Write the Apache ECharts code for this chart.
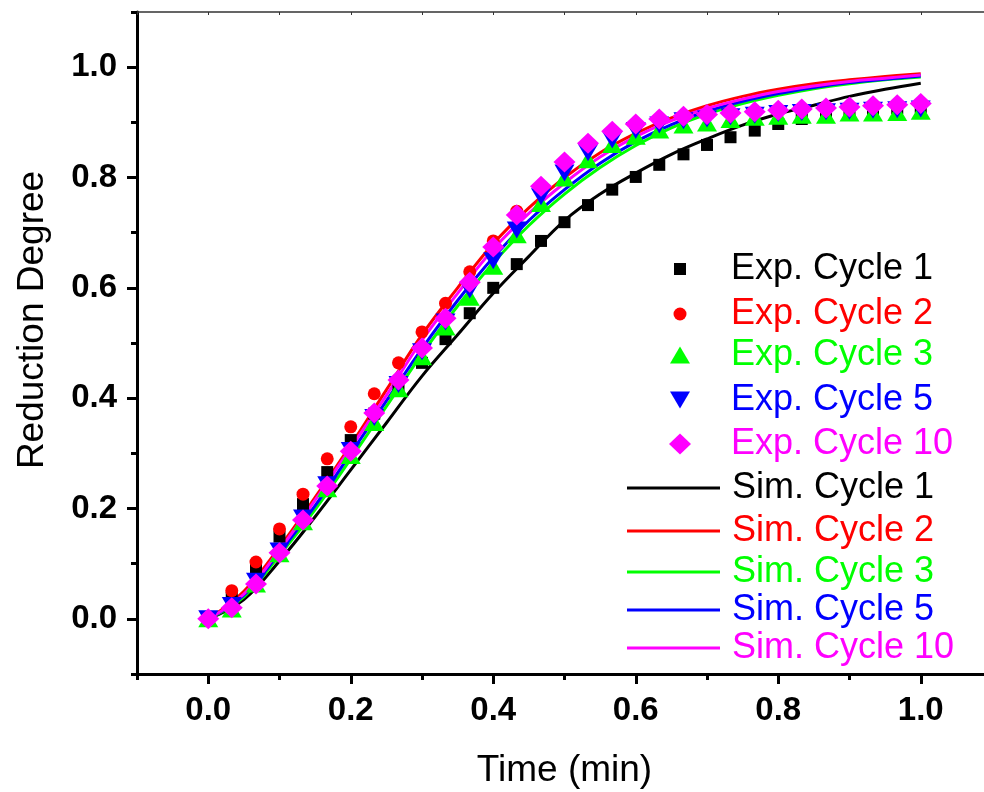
<!DOCTYPE html>
<html>
<head>
<meta charset="utf-8">
<script src="https://cdn.jsdelivr.net/npm/echarts@6/dist/echarts.min.js"></script>
<style>
  html, body { margin: 0; padding: 0; background: #fff; }
  #chart { width: 984px; height: 792px; }
</style>
</head>
<body>
<div id="chart"></div>
<script>
// Sampling times of the measured points (min)
const expTime = [0, 0.033, 0.067, 0.1, 0.133, 0.167, 0.2, 0.233, 0.267, 0.3, 0.333,
  0.367, 0.4, 0.433, 0.467, 0.5, 0.533, 0.567, 0.6, 0.633, 0.667, 0.7, 0.733,
  0.767, 0.8, 0.833, 0.867, 0.9, 0.933, 0.967, 1.0];

// Measured reduction degree per cycle
const expCycle1 = [0, 0.038, 0.091, 0.149, 0.208, 0.266, 0.324, 0.372, 0.418, 0.464, 0.507,
  0.554, 0.600, 0.643, 0.685, 0.719, 0.750, 0.778, 0.801, 0.823, 0.842, 0.859, 0.873,
  0.885, 0.897, 0.906, 0.913, 0.918, 0.923, 0.926, 0.928];
const expCycle2 = [0, 0.051, 0.103, 0.163, 0.226, 0.290, 0.348, 0.408, 0.464, 0.520, 0.572,
  0.629, 0.685, 0.739, 0.782, 0.822, 0.855, 0.878, 0.893, 0.903, 0.909, 0.913, 0.916,
  0.919, 0.921, 0.923, 0.925, 0.927, 0.929, 0.931, 0.932];
const expCycle3 = [0, 0.018, 0.063, 0.118, 0.176, 0.236, 0.296, 0.356, 0.417, 0.475, 0.529,
  0.583, 0.639, 0.696, 0.753, 0.799, 0.832, 0.860, 0.875, 0.886, 0.895, 0.899, 0.905,
  0.909, 0.911, 0.913, 0.913, 0.917, 0.917, 0.918, 0.920];
const expCycle5 = [0, 0.024, 0.068, 0.123, 0.183, 0.243, 0.305, 0.365, 0.425, 0.484, 0.538,
  0.596, 0.649, 0.705, 0.765, 0.808, 0.845, 0.868, 0.885, 0.895, 0.903, 0.906, 0.910,
  0.913, 0.916, 0.918, 0.919, 0.920, 0.922, 0.923, 0.924];
const expCycle10 = [0, 0.020, 0.063, 0.120, 0.179, 0.241, 0.304, 0.373, 0.433, 0.491, 0.545,
  0.610, 0.674, 0.732, 0.784, 0.828, 0.862, 0.884, 0.897, 0.906, 0.911, 0.914, 0.917,
  0.919, 0.922, 0.924, 0.926, 0.928, 0.930, 0.932, 0.934];

// Model curves (min)
const simTime = [0, 0.05, 0.1, 0.15, 0.2, 0.25, 0.3, 0.35, 0.4, 0.45, 0.5,
  0.55, 0.6, 0.65, 0.7, 0.75, 0.8, 0.85, 0.9, 0.95, 1.0];
const simCycle1 = [0, 0.035, 0.105, 0.185, 0.270, 0.355, 0.440, 0.515, 0.590, 0.657, 0.722,
  0.770, 0.808, 0.842, 0.870, 0.895, 0.915, 0.931, 0.947, 0.960, 0.971];
const simCycle2 = [0, 0.050, 0.130, 0.220, 0.315, 0.415, 0.515, 0.600, 0.680, 0.745, 0.800,
  0.845, 0.880, 0.908, 0.930, 0.947, 0.960, 0.970, 0.977, 0.983, 0.988];
const simCycle3 = [0, 0.040, 0.115, 0.198, 0.290, 0.385, 0.480, 0.567, 0.645, 0.713, 0.770,
  0.818, 0.858, 0.890, 0.915, 0.934, 0.949, 0.961, 0.970, 0.977, 0.982];
const simCycle5 = [0, 0.043, 0.120, 0.205, 0.300, 0.395, 0.490, 0.577, 0.655, 0.722, 0.778,
  0.826, 0.865, 0.896, 0.920, 0.938, 0.952, 0.963, 0.972, 0.978, 0.984];
const simCycle10 = [0, 0.045, 0.125, 0.215, 0.310, 0.405, 0.505, 0.590, 0.670, 0.735, 0.790,
  0.837, 0.874, 0.903, 0.925, 0.942, 0.956, 0.966, 0.974, 0.980, 0.986];

// Axis tick positions
const majorTicks = [0, 0.2, 0.4, 0.6, 0.8, 1.0];
const minorTicks = [-0.1, 0.1, 0.3, 0.5, 0.7, 0.9, 1.1];

const FONT = 'Liberation Sans, Arial, Helvetica, sans-serif';
const BLACK = '#000000', RED = '#ff0000', GREEN = '#00ff00', BLUE = '#0000ff', MAGENTA = '#ff00ff';

const pairs = (xs, ys) => xs.map((x, i) => [x, ys[i]]);

const expSeries = [
  { name: 'Exp. Cycle 1', data: expCycle1, color: BLACK, symbol: 'rect', size: 12, legendIcon: 'rect' },
  { name: 'Exp. Cycle 2', data: expCycle2, color: RED, symbol: 'circle', size: 13, legendIcon: 'circle' },
  { name: 'Exp. Cycle 3', data: expCycle3, color: GREEN, symbol: 'triangle', size: [20, 17], legendIcon: 'triangle' },
  { name: 'Exp. Cycle 5', data: expCycle5, color: BLUE, symbol: 'path://M0,0L20,0L10,17Z', size: [20, 17], legendIcon: 'path://M0,0L20,0L10,17Z' },
  { name: 'Exp. Cycle 10', data: expCycle10, color: MAGENTA, symbol: 'diamond', size: [22, 21], legendIcon: 'diamond' }
];
const simSeries = [
  { name: 'Sim. Cycle 1', data: simCycle1, color: BLACK },
  { name: 'Sim. Cycle 2', data: simCycle2, color: RED },
  { name: 'Sim. Cycle 3', data: simCycle3, color: GREEN },
  { name: 'Sim. Cycle 5', data: simCycle5, color: BLUE },
  { name: 'Sim. Cycle 10', data: simCycle10, color: MAGENTA }
];

// Legend rows (centre y of each entry)
const expRowY = [269, 314, 355, 400, 444];
const simRowY = [488, 531, 572, 610, 648];
const LEGEND_FONT = 36;

const legends = [];
expSeries.forEach((s, i) => {
  const w = Array.isArray(s.size) ? s.size[0] : s.size;
  const h = Array.isArray(s.size) ? s.size[1] : s.size;
  const cx = 680;
  legends.push({
    data: [{ name: s.name, icon: s.legendIcon, textStyle: { color: s.color } }],
    left: cx - w / 2,
    top: expRowY[i] - LEGEND_FONT / 2,
    itemWidth: w,
    itemHeight: h,
    padding: 0,
    selectedMode: false,
    textStyle: { fontFamily: FONT, fontSize: LEGEND_FONT, padding: [0, 0, 0, 731 - (cx + w / 2) - 5] }
  });
});
simSeries.forEach((s, i) => {
  legends.push({
    data: [{ name: s.name, icon: 'rect', textStyle: { color: s.color } }],
    left: 627,
    top: simRowY[i] - LEGEND_FONT / 2,
    itemWidth: 93,
    itemHeight: 3,
    padding: 0,
    selectedMode: false,
    textStyle: { fontFamily: FONT, fontSize: LEGEND_FONT, padding: [0, 0, 0, 732 - 627 - 93 - 5] }
  });
});

const series = [];
simSeries.forEach(s => {
  series.push({
    name: s.name, type: 'line', data: pairs(simTime, s.data),
    smooth: 0.4, symbol: 'none', showSymbol: false, z: 2,
    itemStyle: { color: s.color },
    lineStyle: { color: s.color, width: 3 }
  });
});
expSeries.forEach((s, i) => {
  series.push({
    name: s.name, type: 'scatter', data: pairs(expTime, s.data),
    symbol: s.symbol, symbolSize: s.size, z: 3 + i,
    itemStyle: { color: s.color, opacity: 1 }
  });
});

const axisCommon = { min: -0.1, max: 1.1, type: 'value', splitLine: { show: false } };

const option = {
  animation: false,
  backgroundColor: '#ffffff',
  grid: { left: 137, top: 12, width: 855, height: 662, containLabel: false, outerBoundsMode: 'none' },
  legend: legends,
  xAxis: [
    Object.assign({}, axisCommon, {
      position: 'bottom',
      name: 'Time (min)', nameLocation: 'middle', nameGap: 78,
      nameTextStyle: { fontFamily: FONT, fontSize: 37, color: BLACK },
      axisLine: { show: true, onZero: false, lineStyle: { color: BLACK, width: 3 } },
      axisTick: { show: true, inside: false, length: 10, customValues: majorTicks, lineStyle: { color: BLACK, width: 3 } },
      axisLabel: { show: true, customValues: majorTicks, margin: 20, color: BLACK, fontFamily: FONT, fontSize: 33, fontWeight: 'bold',
        formatter: v => v.toFixed(1) }
    }),
    Object.assign({}, axisCommon, {
      position: 'bottom',
      axisLine: { show: false, onZero: false },
      axisTick: { show: true, inside: false, length: 6, customValues: minorTicks, lineStyle: { color: BLACK, width: 3 } },
      axisLabel: { show: false }
    }),
    Object.assign({}, axisCommon, {
      position: 'top', interval: 0.1,
      axisLine: { show: true, onZero: false, lineStyle: { color: '#333333', width: 1.5 } },
      axisTick: { show: true, inside: true, length: 3, lineStyle: { color: '#333333', width: 1 } },
      axisLabel: { show: false }
    })
  ],
  yAxis: [
    Object.assign({}, axisCommon, {
      position: 'left',
      name: 'Reduction Degree', nameLocation: 'middle', nameGap: 86,
      nameTextStyle: { fontFamily: FONT, fontSize: 37, color: BLACK, padding: [0, 0, 0, 46] },
      axisLine: { show: true, onZero: false, lineStyle: { color: BLACK, width: 3 } },
      axisTick: { show: true, inside: false, length: 10, customValues: majorTicks, lineStyle: { color: BLACK, width: 3 } },
      axisLabel: { show: true, customValues: majorTicks, margin: 20, color: BLACK, fontFamily: FONT, fontSize: 33, fontWeight: 'bold',
        formatter: v => v.toFixed(1) }
    }),
    Object.assign({}, axisCommon, {
      position: 'left',
      axisLine: { show: false, onZero: false },
      axisTick: { show: true, inside: false, length: 6, customValues: minorTicks, lineStyle: { color: BLACK, width: 3 } },
      axisLabel: { show: false }
    })
  ],
  series: series
};

const chart = echarts.init(document.getElementById('chart'), null, { renderer: 'canvas' });
chart.setOption(option);
</script>
</body>
</html>
